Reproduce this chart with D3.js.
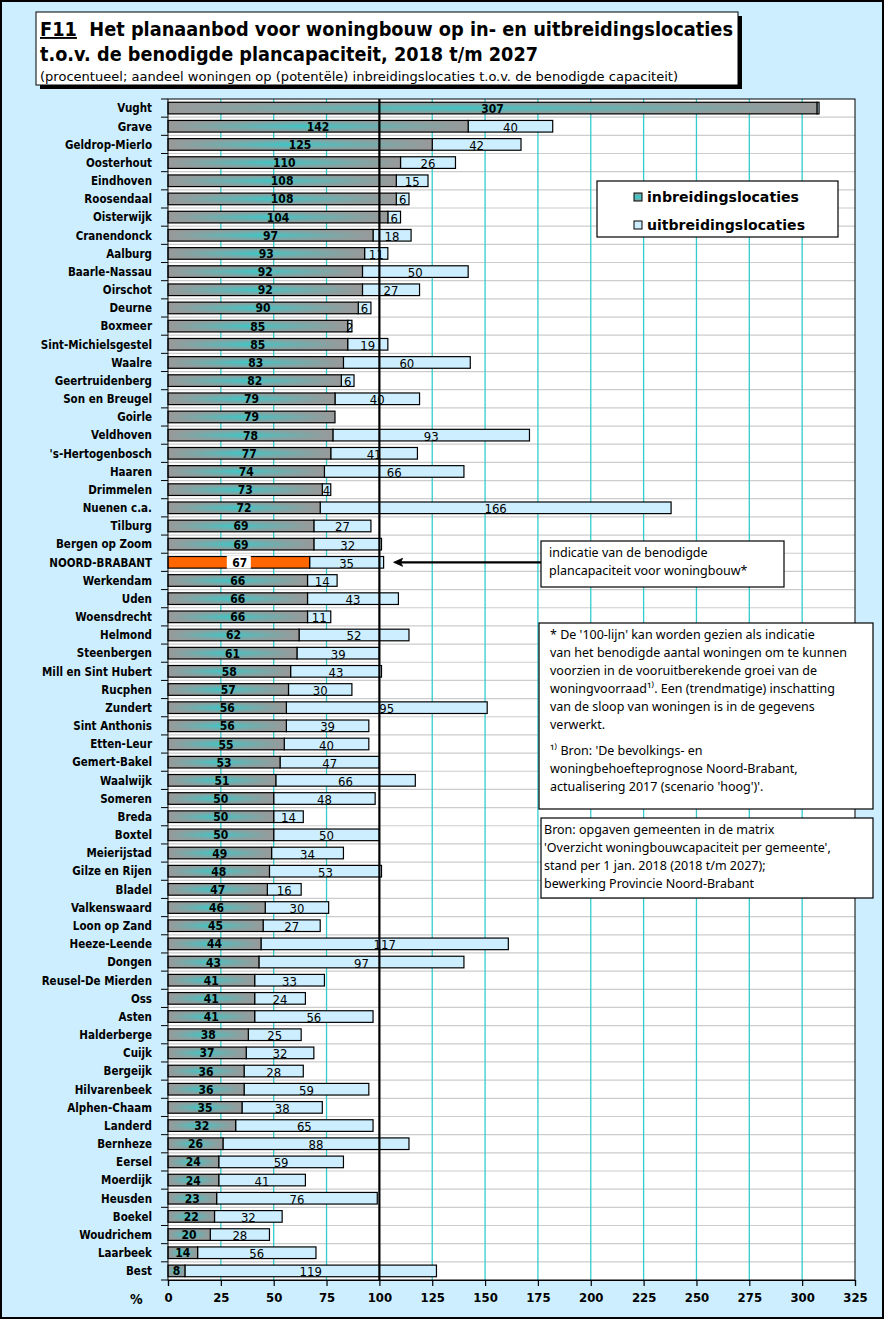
<!doctype html>
<html lang="nl">
<head>
<meta charset="UTF-8">
<title>F11 Planaanbod woningbouw</title>
<script src="https://d3js.org/d3.v7.min.js"></script>
<style>
  html, body { margin: 0; padding: 0; background: #fff; }
  svg { display: block; }
  .cat { font-family: "DejaVu Sans Condensed", "DejaVu Sans", sans-serif; font-weight: bold; font-size: 11.5px; }
  .lab-in { font-family: "DejaVu Sans Condensed", "DejaVu Sans", sans-serif; font-weight: bold; font-size: 12px; }
  .lab-out { font-family: "Liberation Sans Narrow", "DejaVu Sans Condensed", sans-serif; font-size: 13px; }
  .note { font-family: "Noto Sans", "DejaVu Sans", sans-serif; font-size: 12.5px; }
</style>
</head>
<body>
<svg id="chart" width="884" height="1319"></svg>
<script>
// ---- data ---- //
const gemeenten = ["Vught", "Grave", "Geldrop-Mierlo", "Oosterhout", "Eindhoven", "Roosendaal", "Oisterwijk",
  "Cranendonck", "Aalburg", "Baarle-Nassau", "Oirschot", "Deurne", "Boxmeer", "Sint-Michielsgestel", "Waalre",
  "Geertruidenberg", "Son en Breugel", "Goirle", "Veldhoven", "'s-Hertogenbosch", "Haaren", "Drimmelen",
  "Nuenen c.a.", "Tilburg", "Bergen op Zoom", "NOORD-BRABANT", "Werkendam", "Uden", "Woensdrecht", "Helmond",
  "Steenbergen", "Mill en Sint Hubert", "Rucphen", "Zundert", "Sint Anthonis", "Etten-Leur", "Gemert-Bakel",
  "Waalwijk", "Someren", "Breda", "Boxtel", "Meierijstad", "Gilze en Rijen", "Bladel", "Valkenswaard",
  "Loon op Zand", "Heeze-Leende", "Dongen", "Reusel-De Mierden", "Oss", "Asten", "Halderberge", "Cuijk",
  "Bergeijk", "Hilvarenbeek", "Alphen-Chaam", "Landerd", "Bernheze", "Eersel", "Moerdijk", "Heusden",
  "Boekel", "Woudrichem", "Laarbeek", "Best"];
const inbreiding = [307, 142, 125, 110, 108, 108, 104, 97, 93, 92, 92, 90, 85, 85, 83, 82, 79, 79, 78, 77, 74, 73,
  72, 69, 69, 67, 66, 66, 66, 62, 61, 58, 57, 56, 56, 55, 53, 51, 50, 50, 50, 49, 48, 47, 46, 45, 44, 43, 41, 41,
  41, 38, 37, 36, 36, 35, 32, 26, 24, 24, 23, 22, 20, 14, 8];
const uitbreiding = [1, 40, 42, 26, 15, 6, 6, 18, 11, 50, 27, 6, 2, 19, 60, 6, 40, 0, 93, 41, 66, 4, 166, 27, 32,
  35, 14, 43, 11, 52, 39, 43, 30, 95, 39, 40, 47, 66, 48, 14, 50, 34, 53, 16, 30, 27, 117, 97, 33, 24, 56, 25, 32,
  28, 59, 38, 65, 88, 59, 41, 76, 32, 28, 56, 119];
const xTicks = [0, 25, 50, 75, 100, 125, 150, 175, 200, 225, 250, 275, 300, 325];
const totaal = "NOORD-BRABANT";

const titleLine1 = "Het planaanbod voor woningbouw op in- en uitbreidingslocaties";
const titleLine2 = "t.o.v. de benodigde plancapaciteit, 2018 t/m 2027";
const subtitle = "(procentueel; aandeel woningen op (potentële) inbreidingslocaties t.o.v. de benodigde capaciteit)";
const legendLabels = ["inbreidingslocaties", "uitbreidingslocaties"];
const arrowNote = ["indicatie van de benodigde", "plancapaciteit voor woningbouw*"];
const footNote = ["* De '100-lijn' kan worden gezien als indicatie",
  "van het benodigde aantal woningen om te kunnen",
  "voorzien in de vooruitberekende groei van de",
  "woningvoorraad¹⁾. Een (trendmatige) inschatting",
  "van de sloop van woningen is in de gegevens",
  "verwerkt."];
const bronNote = ["¹⁾ Bron: 'De bevolkings- en",
  "woningbehoefteprognose Noord-Brabant,",
  "actualisering 2017 (scenario 'hoog')'."];
const bron = ["Bron: opgaven  gemeenten in de matrix",
  "'Overzicht woningbouwcapaciteit per gemeente',",
  "stand per 1 jan. 2018 (2018 t/m 2027);",
  "bewerking Provincie Noord-Brabant"];

const rows = gemeenten.map((g, i) => ({ naam: g, inb: inbreiding[i], uit: uitbreiding[i] }));

// ---- layout ---- //
const W = 884, H = 1319;
const plot = { left: 168, right: 855, top: 99, bottom: 1280 };
const BG = "#cceeff";
const TEAL = "#33cccc";
const GREY = "#999999";

const svg = d3.select("#chart");
const defs = svg.append("defs");

// bar gradients: grey edges with a teal glow in the middle
const vGrad = defs.append("linearGradient").attr("id", "inbV")
  .attr("x1", 0).attr("x2", 0).attr("y1", 0).attr("y2", 1);
vGrad.append("stop").attr("offset", "0%").attr("stop-color", GREY);
vGrad.append("stop").attr("offset", "50%").attr("stop-color", TEAL);
vGrad.append("stop").attr("offset", "100%").attr("stop-color", GREY);
const hGrad = defs.append("linearGradient").attr("id", "inbH")
  .attr("x1", 0).attr("x2", 1).attr("y1", 0).attr("y2", 0);
hGrad.append("stop").attr("offset", "0%").attr("stop-color", GREY).attr("stop-opacity", 1);
hGrad.append("stop").attr("offset", "45%").attr("stop-color", GREY).attr("stop-opacity", 0.1);
hGrad.append("stop").attr("offset", "100%").attr("stop-color", GREY).attr("stop-opacity", 1);

// outer background + border
svg.append("rect").attr("x", 1).attr("y", 1).attr("width", W - 2).attr("height", H - 2)
  .attr("fill", BG).attr("stroke", "#000").attr("stroke-width", 2);

// ---- title box ---- //
svg.append("rect").attr("x", 40).attr("y", 16).attr("width", 702).attr("height", 73).attr("fill", "#000");
svg.append("rect").attr("x", 36).attr("y", 12).attr("width", 702).attr("height", 73)
  .attr("fill", "#fff").attr("stroke", "#000").attr("stroke-width", 1);

const t1 = svg.append("text").attr("x", 40).attr("y", 36)
  .attr("font-family", "'DejaVu Sans', sans-serif").attr("font-weight", "bold").attr("font-size", 19)
  .attr("textLength", 693).attr("lengthAdjust", "spacingAndGlyphs");
t1.append("tspan").attr("text-decoration", "underline").text("F11");
t1.append("tspan").text("\u00a0 " + titleLine1);
svg.append("text").attr("x", 40).attr("y", 61)
  .attr("font-family", "'DejaVu Sans', sans-serif").attr("font-weight", "bold").attr("font-size", 19)
  .attr("textLength", 498).attr("lengthAdjust", "spacingAndGlyphs").text(titleLine2);
svg.append("text").attr("x", 40).attr("y", 81)
  .attr("font-family", "'DejaVu Sans Condensed', sans-serif").attr("font-size", 13)
  .attr("textLength", 638).attr("lengthAdjust", "spacingAndGlyphs").text(subtitle);

// ---- scales ---- //
const x = d3.scaleLinear().domain([0, 325]).range([plot.left, plot.right]);
const y = d3.scaleBand().domain(gemeenten).range([plot.top, plot.bottom]).paddingInner(0.36).paddingOuter(0.18);
const step = y.step();

// plot area
svg.append("rect").attr("x", plot.left).attr("y", plot.top)
  .attr("width", plot.right - plot.left).attr("height", plot.bottom - plot.top).attr("fill", "#fff");

// horizontal grid between rows
const bounds = d3.range(1, gemeenten.length).map(i => plot.top + i * step);
svg.append("g").selectAll("line").data(bounds).join("line")
  .attr("x1", plot.left).attr("x2", plot.right).attr("y1", d => d).attr("y2", d => d)
  .attr("stroke", "#cccccc").attr("stroke-width", 1.2);

// vertical teal grid
svg.append("g").selectAll("line").data(xTicks.filter(d => d > 0 && d < 325 && d !== 100)).join("line")
  .attr("x1", d => x(d)).attr("x2", d => x(d)).attr("y1", plot.top).attr("y2", plot.bottom)
  .attr("stroke", TEAL).attr("stroke-width", 1.3);

// left ticks between categories
svg.append("g").selectAll("line").data([plot.top, ...bounds, plot.bottom]).join("line")
  .attr("x1", plot.left - 7).attr("x2", plot.left).attr("y1", d => d).attr("y2", d => d)
  .attr("stroke", "#000").attr("stroke-width", 1);

// ---- bars ---- //
const bh = y.bandwidth();
const bars = svg.append("g").selectAll("g").data(rows).join("g");

bars.append("rect").attr("class", "uit")
  .attr("x", d => x(d.inb)).attr("y", d => y(d.naam))
  .attr("width", d => x(d.inb + d.uit) - x(d.inb)).attr("height", bh)
  .attr("fill", BG).attr("stroke", "#000").attr("stroke-width", 1.2)
  .style("display", d => d.uit > 0 ? null : "none");

bars.append("rect")
  .attr("x", x(0)).attr("y", d => y(d.naam))
  .attr("width", d => x(d.inb) - x(0)).attr("height", bh)
  .attr("fill", d => d.naam === totaal ? "#ff6600" : "url(#inbV)");
bars.filter(d => d.naam !== totaal).append("rect")
  .attr("x", x(0)).attr("y", d => y(d.naam))
  .attr("width", d => x(d.inb) - x(0)).attr("height", bh)
  .attr("fill", "url(#inbH)");
bars.append("rect")
  .attr("x", x(0)).attr("y", d => y(d.naam))
  .attr("width", d => x(d.inb) - x(0)).attr("height", bh)
  .attr("fill", "none").attr("stroke", "#000").attr("stroke-width", 1.2);

// white label patch on the province total
bars.filter(d => d.naam === totaal).append("rect")
  .attr("x", d => x(d.inb / 2) - 12).attr("y", d => y(d.naam) - 0.5)
  .attr("width", 24).attr("height", bh + 1).attr("fill", "#fff");

bars.append("text").attr("class", "lab-in")
  .attr("x", d => x(d.inb / 2) + (d.naam === totaal ? 1 : 0)).attr("y", d => y(d.naam) + bh / 2 + 4.5)
  .attr("text-anchor", "middle").text(d => d.inb);

bars.filter(d => d.uit > 1).append("text").attr("class", "lab-out")
  .attr("x", d => x(d.inb + d.uit / 2)).attr("y", d => y(d.naam) + bh / 2 + 5.5)
  .attr("text-anchor", "middle").text(d => d.uit);

// category labels
svg.append("g").selectAll("text").data(gemeenten).join("text").attr("class", "cat")
  .attr("x", 152).attr("y", d => y(d) + bh / 2 + 4.3).attr("text-anchor", "end").text(d => d);

// 100-line
svg.append("line").attr("x1", x(100)).attr("x2", x(100)).attr("y1", plot.top).attr("y2", plot.bottom)
  .attr("stroke", "#000").attr("stroke-width", 2.2);

// plot frame
svg.append("rect").attr("x", plot.left).attr("y", plot.top)
  .attr("width", plot.right - plot.left).attr("height", plot.bottom - plot.top)
  .attr("fill", "none").attr("stroke", "#000").attr("stroke-width", 1);

// ---- x axis ---- //
const xAxis = svg.append("g").attr("transform", `translate(0,${plot.bottom})`)
  .call(d3.axisBottom(x).tickValues(xTicks).tickSize(6).tickPadding(7).tickFormat(d3.format("d")));
xAxis.select(".domain").attr("stroke-width", 1.2);
xAxis.selectAll(".tick line").attr("stroke-width", 1.2);
xAxis.selectAll("text")
  .attr("font-family", "'DejaVu Sans Condensed', sans-serif").attr("font-weight", "bold").attr("font-size", 13)
  .attr("fill", "#000");
svg.append("text").attr("x", 130).attr("y", 1304)
  .attr("font-family", "'DejaVu Sans Condensed', sans-serif").attr("font-weight", "bold").attr("font-size", 14)
  .text("%");

// ---- legend ---- //
const lg = svg.append("g");
lg.append("rect").attr("x", 597).attr("y", 181).attr("width", 241).attr("height", 56)
  .attr("fill", "#fff").attr("stroke", "#000").attr("stroke-width", 1.2);
const swFill = ["url(#inbV)", BG];
legendLabels.forEach((l, i) => {
  const yy = 193 + i * 28;
  lg.append("rect").attr("x", 634).attr("y", yy).attr("width", 8).attr("height", 8)
    .attr("fill", swFill[i]).attr("stroke", "#000").attr("stroke-width", 1);
  lg.append("text").attr("x", 647).attr("y", yy + 8.5)
    .attr("font-family", "'DejaVu Sans', sans-serif").attr("font-weight", "bold").attr("font-size", 14.5)
    .attr("textLength", i ? 158 : 152).attr("lengthAdjust", "spacingAndGlyphs").text(l);
});

// ---- annotations ---- //
function noteBox(bx, by, bw, bhh, lines, tx, ty0, lh) {
  svg.append("rect").attr("x", bx).attr("y", by).attr("width", bw).attr("height", bhh)
    .attr("fill", "#fff").attr("stroke", "#000").attr("stroke-width", 1.2);
  const t = svg.append("text").attr("class", "note");
  lines.forEach((l, i) => t.append("tspan").attr("x", tx).attr("y", ty0 + i * lh).text(l));
  return t;
}

noteBox(541, 541, 243, 46, arrowNote, 549, 557, 18);

// arrow from the note to the province total bar
function totalEnd() {
  const r = rows.find(d => d.naam === totaal);
  return r.inb + r.uit;
}
const ay = y(totaal) + bh / 2;
const tipX = x(totalEnd()) + 10;
svg.append("line")
  .attr("x1", 541).attr("x2", tipX + 7)
  .attr("y1", ay).attr("y2", ay)
  .attr("stroke", "#000").attr("stroke-width", 2.2);
svg.append("path")
  .attr("d", `M${tipX},${ay} L${tipX + 9},${ay - 4} L${tipX + 7},${ay} L${tipX + 9},${ay + 4} Z`)
  .attr("fill", "#000").attr("stroke", "#000").attr("stroke-width", 0.8);

const fn = noteBox(539, 623, 334, 186, [], 550, 639, 18);
footNote.forEach((l, i) => fn.append("tspan").attr("x", 550).attr("y", 639 + i * 18).text(l));
bronNote.forEach((l, i) => fn.append("tspan").attr("x", 550).attr("y", 755 + i * 18).text(l));

noteBox(541, 818, 332, 80, bron, 544, 834, 18);
</script>
</body>
</html>
